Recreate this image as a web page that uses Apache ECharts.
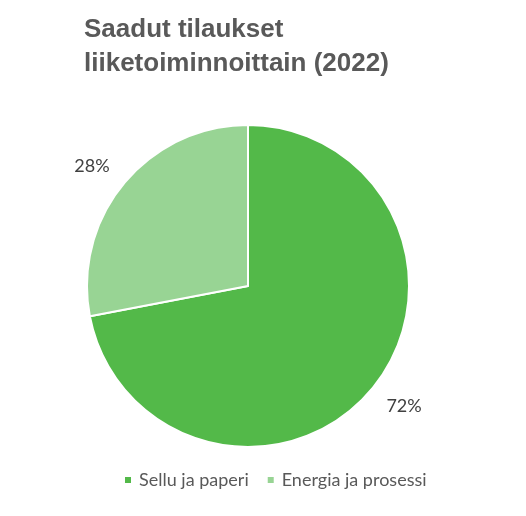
<!DOCTYPE html>
<html><head><meta charset="utf-8">
<script src="https://cdn.jsdelivr.net/npm/echarts@6/dist/echarts.min.js"></script>
<style>html,body{margin:0;padding:0;background:#fff}#c{width:526px;height:516px}</style>
</head><body><div id="c"></div>
<script>
const categories = ['Sellu ja paperi', 'Energia ja prosessi'];
const values = [72, 28];
const colors = ['#53B949', '#98D494'];

const data = categories.map((n, i) => ({ name: n, value: values[i], itemStyle: { color: colors[i] } }));
const chart = echarts.init(document.getElementById('c'));
chart.setOption({
  animation: false,
  title: {
    text: 'Saadut tilaukset\nliiketoiminnoittain (2022)',
    left: 79, top: 8,
    textStyle: { fontFamily: 'Liberation Sans, Arial', fontWeight: 'bold', fontSize: 26, lineHeight: 34, color: '#595959' }
  },
  legend: {
    bottom: 22, left: 118,
    itemWidth: 8, itemHeight: 8, itemGap: 17,
    icon: 'rect',
    textStyle: { fontFamily: 'Lato', fontSize: 18, color: '#595959', padding: [0, 0, 0, 2] },
    data: categories
  },
  series: [{
    type: 'pie',
    center: [248, 286], radius: [0, 161],
    startAngle: 90, clockwise: true,
    itemStyle: { borderColor: '#fff', borderWidth: 2 },
    label: { show: false }, labelLine: { show: false },
    silent: true,
    data: data
  }, {
    type: 'pie',
    center: [248, 286], radius: [161, 227],
    startAngle: 92, clockwise: true,
    silent: true,
    itemStyle: { color: 'rgba(0,0,0,0)' },
    label: { show: true, position: 'inside', formatter: '{d}%', fontFamily: 'Lato', fontSize: 18, color: '#404040' },
    labelLine: { show: false },
    data: categories.map((n, i) => ({ name: n, value: values[i] }))
  }]
});
</script></body></html>
